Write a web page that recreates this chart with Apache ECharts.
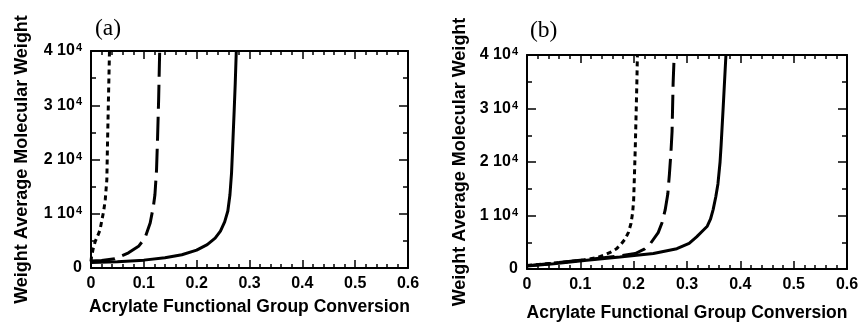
<!DOCTYPE html>
<html>
<head>
<meta charset="utf-8">
<script src="https://cdn.jsdelivr.net/npm/echarts@6/dist/echarts.min.js"></script>
<style>
  html, body { margin: 0; background: #fff; }
  #chart { width: 867px; height: 327px; }
</style>
</head>
<body>
<div id="chart"></div>
<script>
// panel (a)
const aDotX = [0, 0.001, 0.004, 0.008, 0.013, 0.017, 0.021, 0.024, 0.027, 0.03, 0.031, 0.033, 0.035];
const aDotY = [1200, 2100, 3500, 4900, 6000, 7000, 9000, 10500, 12600, 16300, 21800, 31000, 40000];
const aDashX = [0, 0.02, 0.045, 0.071, 0.09, 0.102, 0.112, 0.118, 0.121, 0.124, 0.126, 0.128, 0.13];
const aDashY = [1300, 1400, 1700, 2800, 4000, 5500, 8300, 11300, 13500, 18000, 24000, 31000, 40000];
const aSolidX = [0, 0.05, 0.1, 0.14, 0.172, 0.2, 0.22, 0.235, 0.245, 0.253, 0.259, 0.263, 0.266, 0.268, 0.271, 0.273, 0.275];
const aSolidY = [1000, 1150, 1450, 1900, 2450, 3300, 4300, 5500, 6800, 8500, 10500, 13500, 17500, 22000, 29000, 34000, 40000];

// panel (b)
const bDotX = [0, 0.05, 0.1, 0.13, 0.143, 0.156, 0.168, 0.176, 0.184, 0.19, 0.195, 0.198, 0.2, 0.203, 0.206, 0.207];
const bDotY = [650, 1100, 1600, 2100, 2550, 3100, 3800, 4600, 5600, 6800, 8500, 10500, 12900, 22600, 34800, 40000];
const bDashX = [0, 0.05, 0.112, 0.174, 0.203, 0.22, 0.231, 0.246, 0.253, 0.259, 0.264, 0.267, 0.27, 0.272, 0.274, 0.276];
const bDashY = [600, 1100, 1750, 2450, 2900, 3700, 4700, 6800, 8600, 11000, 14000, 17700, 22000, 25700, 34800, 40000];
const bSolidX = [0, 0.05, 0.112, 0.174, 0.237, 0.281, 0.304, 0.318, 0.33, 0.338, 0.344, 0.349, 0.354, 0.358, 0.362, 0.364, 0.368, 0.373];
const bSolidY = [550, 1000, 1650, 2250, 2900, 3800, 4800, 6000, 7200, 8000, 9300, 11100, 13500, 15900, 20000, 23200, 30500, 40000];

const panelLabels = ['(a)', '(b)'];
const xName = 'Acrylate Functional Group Conversion';
const yName = 'Weight Average Molecular Weight';

const font = 'Liberation Sans, Arial, sans-serif';
const pairs = (xs, ys) => xs.map((x, i) => [x, ys[i]]);

const tickStyle = { color: '#000', width: 1.5 };

function xAxis(grid, pos, gap) {
  const bottom = pos === 'bottom';
  return {
    type: 'value', gridIndex: grid, position: pos,
    min: 0, max: 0.6, interval: 0.1,
    axisLine: { show: true, onZero: false, lineStyle: { color: '#000', width: 2 } },
    axisTick: { show: true, inside: true, length: 8, lineStyle: tickStyle },
    minorTick: { show: true, splitNumber: 5, length: 4, lineStyle: tickStyle },
    splitLine: { show: false },
    axisLabel: {
      show: bottom, margin: 8, color: '#000',
      fontFamily: font, fontWeight: 'bold', fontSize: 16,
      formatter: v => v === 0 ? '0' : v.toFixed(1)
    },
    name: bottom ? xName : '', nameLocation: 'middle', nameGap: gap,
    nameTextStyle: { color: '#000', fontFamily: font, fontWeight: 'bold', fontSize: 17.5 }
  };
}

function yAxis(grid, pos, gap) {
  const left = pos === 'left';
  return {
    type: 'value', gridIndex: grid, position: pos,
    min: 0, max: 40000, interval: 10000,
    axisLine: { show: true, onZero: false, lineStyle: { color: '#000', width: 2 } },
    axisTick: { show: true, inside: true, length: 9, lineStyle: tickStyle },
    minorTick: { show: true, splitNumber: 2, length: 5, lineStyle: tickStyle },
    splitLine: { show: false },
    axisLabel: {
      show: left, margin: 9, color: '#000',
      fontFamily: font, fontWeight: 'bold', fontSize: 16,
      formatter: v => v === 0 ? '0' : '{n|' + (v / 10000) + ' 10}{s|4}',
      rich: {
        n: { fontFamily: font, fontWeight: 'bold', fontSize: 16, color: '#000' },
        s: { fontFamily: font, fontWeight: 'bold', fontSize: 11, color: '#000', verticalAlign: 'top', padding: [0, 0, 6, 1] }
      }
    },
    name: left ? yName : '', nameLocation: 'middle', nameGap: gap,
    nameTextStyle: { color: '#000', fontFamily: font, fontWeight: 'bold', fontSize: 18 }
  };
}

function line(data, xi, type) {
  return {
    type: 'line', data, xAxisIndex: xi, yAxisIndex: xi,
    showSymbol: false, animation: false, clip: true,
    lineStyle: { color: '#000', width: 3, type }
  };
}

const labelStyle = { fontFamily: 'Liberation Serif, serif', fontWeight: 'normal', fontSize: 23.5, color: '#000' };

const chart = echarts.init(document.getElementById('chart'));
chart.setOption({
  backgroundColor: '#fff',
  animation: false,
  title: [
    { text: panelLabels[0], left: 95, top: 17, padding: 0, textStyle: labelStyle },
    { text: panelLabels[1], left: 530, top: 19, padding: 0, textStyle: labelStyle }
  ],
  grid: [
    { left: 91, top: 51, width: 317, height: 217 },
    { left: 527, top: 55, width: 320, height: 219 }
  ],
  xAxis: [xAxis(0, 'bottom', 30), xAxis(0, 'top'), xAxis(1, 'bottom', 35), xAxis(1, 'top')],
  yAxis: [yAxis(0, 'left', 60), yAxis(0, 'right'), yAxis(1, 'left', 58), yAxis(1, 'right')],
  series: [
    line(pairs(aDotX, aDotY), 0, [5, 4]),
    line(pairs(aDashX, aDashY), 0, [24, 8]),
    line(pairs(aSolidX, aSolidY), 0, 'solid'),
    line(pairs(bDotX, bDotY), 2, [5, 4]),
    line(pairs(bDashX, bDashY), 2, [24, 8]),
    line(pairs(bSolidX, bSolidY), 2, 'solid')
  ]
});
</script>
</body>
</html>
